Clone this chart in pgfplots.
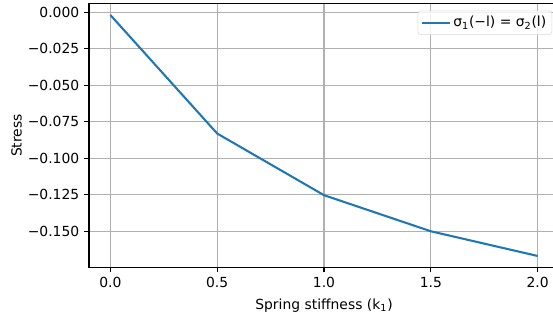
\documentclass[border=0pt]{standalone}
\usepackage{fontspec}
\setmainfont{DejaVu Sans}
\usepackage{pgfplots}
\pgfplotsset{compat=1.18}
\definecolor{mplblue}{HTML}{1F77B4}
\definecolor{gridgray}{HTML}{B0B0B0}
\begin{document}
\fontsize{10}{12}\selectfont
\begin{tikzpicture}
\useasboundingbox (-64.08pt,-35.8pt) rectangle (334.08pt,192.5pt);
\clip (-64.08pt,-35.8pt) rectangle (334.08pt,192.5pt);
\begin{axis}[
  at={(0,0)}, anchor=south west,
  scale only axis,
  width=338.4pt, height=189.9pt,
  xmin=-0.1, xmax=2.1,
  ymin=-0.1747, ymax=0.0058,
  xtick={0,0.5,1,1.5,2},
  xticklabels={0.0,0.5,1.0,1.5,2.0},
  ytick={-0.15,-0.125,-0.1,-0.075,-0.05,-0.025,0},
  yticklabels={−0.150,−0.125,−0.100,−0.075,−0.050,−0.025,0.000},
  xtick pos=bottom, ytick pos=left,
  tick align=outside,
  major tick length=3.5pt,
  every tick/.style={black, line width=0.8pt},
  axis line style={line width=0.8pt},
  grid=major,
  major grid style={gridgray, line width=0.8pt},
  ticklabel style={font=\fontsize{10}{12}\selectfont},
  xlabel={Spring stiffness (k\textsubscript{1})},
  ylabel={Stress},
  label style={font=\fontsize{10}{12}\selectfont},
  ylabel style={yshift=-2.5pt},
  xlabel style={yshift=-1pt},
  legend style={at={(1,1)}, anchor=north east, xshift=-5pt, yshift=-5pt,
    draw=gray!30, rounded corners=2pt, fill=white, fill opacity=0.8, text opacity=1,
    font=\fontsize{10}{12}\selectfont, inner sep=2pt},
  legend cell align=left,
  legend image code/.code={\draw[#1] (0pt,0pt) -- (20pt,0pt);},
]
\addplot[mplblue, line width=1.5pt] coordinates {
  (0,-0.002) (0.5,-0.0831) (1.0,-0.1253) (1.5,-0.1500) (2.0,-0.1669)
};
\addlegendentry{σ\textsubscript{1}(−l) = σ\textsubscript{2}(l)}
\end{axis}
\end{tikzpicture}
\end{document}
